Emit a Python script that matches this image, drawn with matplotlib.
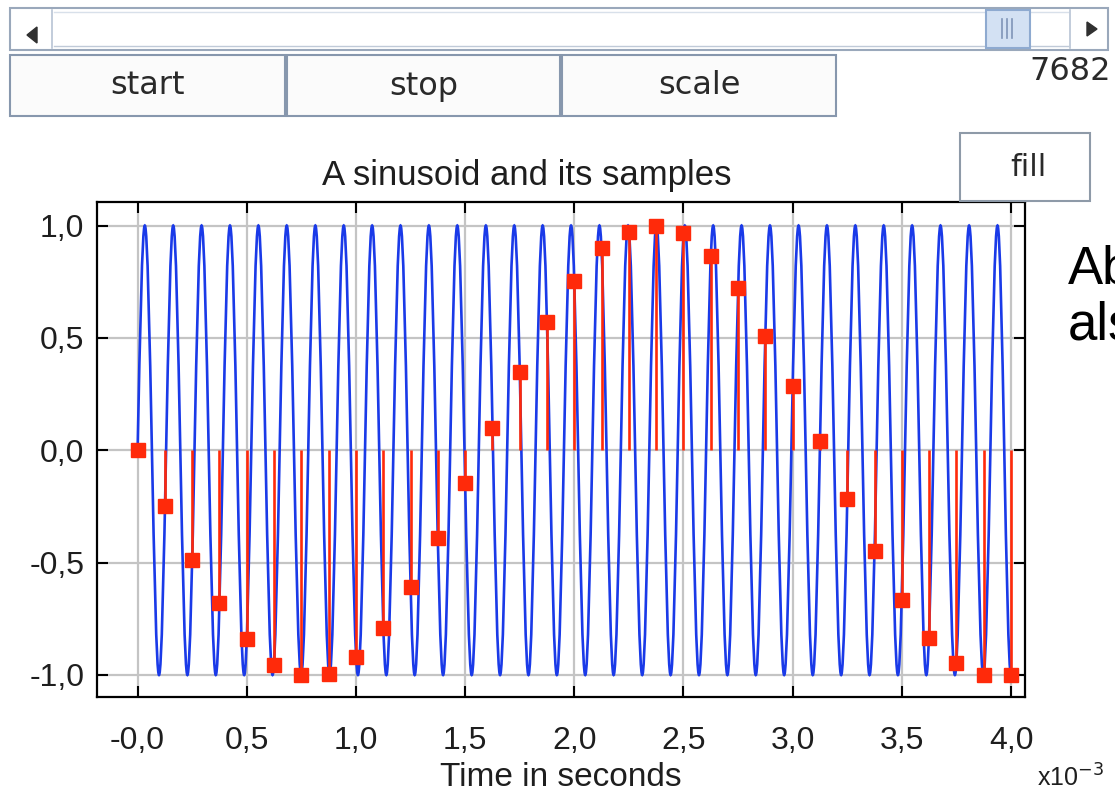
import numpy as np
import matplotlib
matplotlib.use("Agg")
import matplotlib.pyplot as plt
from matplotlib.path import Path
from matplotlib.patches import PathPatch, Rectangle, Polygon

# ---------------- data ----------------
# sample instants (ms) and sampled values
sample_times = [0.0, 0.125, 0.25, 0.375, 0.5, 0.625, 0.75, 0.875, 1.0, 1.125, 1.25,
                1.375, 1.5, 1.625, 1.75, 1.875, 2.0, 2.125, 2.25, 2.375, 2.5, 2.625,
                2.75, 2.875, 3.0, 3.125, 3.25, 3.375, 3.5, 3.625, 3.75, 3.875, 4.0]
sample_values = [0.0, -0.25, -0.49, -0.68, -0.84, -0.955, -1.0, -0.995, -0.92, -0.79, -0.61,
                 -0.39, -0.145, 0.10, 0.35, 0.57, 0.755, 0.90, 0.97, 1.0, 0.965, 0.865,
                 0.72, 0.51, 0.285, 0.04, -0.215, -0.45, -0.665, -0.835, -0.945, -1.0, -1.0]

# continuous sinusoid: times (ms) of its crests (+1) and troughs (-1)
peak_times = [0.033, 0.163, 0.293, 0.423, 0.553, 0.683, 0.814, 0.944, 1.074, 1.204,
              1.334, 1.464, 1.595, 1.725, 1.855, 1.985, 2.115, 2.246, 2.376, 2.506,
              2.636, 2.766, 2.896, 3.027, 3.157, 3.287, 3.417, 3.547, 3.677, 3.808, 3.938]
trough_times = [0.098, 0.228, 0.358, 0.488, 0.618, 0.749, 0.879, 1.009, 1.139, 1.269,
                1.399, 1.530, 1.660, 1.790, 1.920, 2.050, 2.180, 2.311, 2.441, 2.571,
                2.701, 2.831, 2.961, 3.092, 3.222, 3.352, 3.482, 3.612, 3.743, 3.873, 4.000]

x_ticks = [0.0, 0.5, 1.0, 1.5, 2.0, 2.5, 3.0, 3.5, 4.0]
x_ticklabels = ["-0,0", "0,5", "1,0", "1,5", "2,0", "2,5", "3,0", "3,5", "4,0"]
y_ticks = [-1.0, -0.5, 0.0, 0.5, 1.0]
y_ticklabels = ["-1,0", "-0,5", "0,0", "0,5", "1,0"]

title = "A sinusoid and its samples"
xlabel = "Time in seconds"
buttons = ["start", "stop", "scale"]
freq_label = "7682"

# ---------------- styling ----------------
W, H = 1115, 796
BLUE = "#1a3ae8"
RED = "#ff2a0a"
GRID = "#c4c4c4"
BTN_EDGE = "#8797ad"
FONT = "Liberation Sans"
TXT = "#1e1e1e"

fig = plt.figure(figsize=(W / 100, H / 100), dpi=100)
fig.patch.set_facecolor("white")

L, R, T, B = 97, 1025, 201.5, 697
ax = fig.add_axes([L / W, 1 - B / H, (R - L) / W, (B - T) / H])
ax.set_xlim(-0.186, 4.064)
ax.set_ylim(-1.098, 1.107)

# blue sinusoid built from crest/trough instants with cubic Bezier segments
ext_t = []
ext_v = []
for p, q in zip(peak_times, trough_times):
    ext_t += [p, q]
    ext_v += [1.0, -1.0]

verts = [(0.0, 0.0)]
codes = [Path.MOVETO]
p0 = ext_t[0]
verts += [(0.3261 * p0, 0.5123), (0.6381 * p0, 1.0), (p0, 1.0)]
codes += [Path.CURVE4] * 3
a = (np.pi - 2) / np.pi
for i in range(len(ext_t) - 1):
    t0, t1 = ext_t[i], ext_t[i + 1]
    v0, v1 = ext_v[i], ext_v[i + 1]
    d = t1 - t0
    verts += [(t0 + a * d, v0), (t1 - a * d, v1), (t1, v1)]
    codes += [Path.CURVE4] * 3
ax.add_patch(PathPatch(Path(verts, codes), fill=False, edgecolor=BLUE, lw=1.9, zorder=2))

# red stems and square markers
ax.vlines(sample_times, 0, sample_values, colors=RED, lw=1.9, zorder=3)
ax.plot(sample_times, sample_values, linestyle="none", marker="s", ms=9.5,
        color=RED, mec=RED, zorder=4)

ax.set_xticks(x_ticks)
ax.set_xticklabels(x_ticklabels, fontsize=23, family=FONT)
ax.set_yticks(y_ticks)
ax.set_yticklabels(y_ticklabels, fontsize=23, family=FONT)
ax.tick_params(direction="in", length=8, width=1.5, color="black",
               top=True, right=True, labelcolor=TXT)
ax.tick_params(axis="x", pad=21)
ax.tick_params(axis="y", pad=9)
ax.grid(True, color=GRID, lw=1.6, zorder=0)
ax.set_axisbelow(True)
for s in ax.spines.values():
    s.set_linewidth(1.6)
    s.set_color("black")

# ---------------- overlay for GUI widgets and texts (pixel coords) ----------------
ov = fig.add_axes([0, 0, 1, 1], zorder=10)
ov.set_xlim(0, W)
ov.set_ylim(H, 0)
ov.axis("off")
ov.patch.set_alpha(0)

def rect(x0, y0, x1, y1, fc="white", ec=BTN_EDGE, lw=1.5, z=1):
    ov.add_patch(Rectangle((x0, y0), x1 - x0, y1 - y0, facecolor=fc, edgecolor=ec, lw=lw, zorder=z))

# scrollbar
rect(10, 8, 1108, 50, fc="white", ec="#9aa8bb")
ov.plot([52, 52], [10, 48], color="#b8c4d4", lw=1.2, zorder=2)
ov.plot([54, 1068], [12, 12], color="#d8e0ea", lw=1.0, zorder=2)
ov.plot([54, 1068], [46, 46], color="#c0cad8", lw=1.0, zorder=2)
ov.add_patch(Polygon([(27, 35), (37, 27), (37, 43)], closed=True, color="#303030", zorder=3))
rect(986, 10, 1030, 48, fc="#d3e1f3", ec="#8eaad0", lw=1.5, z=3)
for xx in (1002, 1007, 1012):
    ov.plot([xx, xx], [19, 38], color="#7f95b8", lw=1.2, zorder=4)
ov.plot([1070, 1070], [10, 48], color="#b8c4d4", lw=1.2, zorder=2)
ov.add_patch(Polygon([(1097, 29), (1087, 22), (1087, 36)], closed=True, color="#303030", zorder=3))

# buttons
btn_x = [(10, 285), (287, 560), (562, 836)]
for (x0, x1), lab in zip(btn_x, buttons):
    rect(x0, 55, x1, 116, fc="#fbfbfb")
    ov.text((x0 + x1) / 2, 86, lab, ha="center", va="center", fontsize=23,
            family="DejaVu Sans", color="#2a2a2a")
ov.text(1070, 72, freq_label, ha="center", va="center", fontsize=23,
        family="DejaVu Sans", color="#2a2a2a")

# fill button
rect(960, 133, 1090, 201, fc="white", ec="#8e9aa8", z=5)
ov.text(1028, 167, "fill", ha="center", va="center", fontsize=22,
        family="DejaVu Sans", color="#2a2a2a", zorder=6)

# title and labels
ov.text(527, 175, title, ha="center", va="center", fontsize=25, family=FONT, color=TXT)
ov.text(561, 778, xlabel, ha="center", va="center", fontsize=24, family=FONT, color=TXT)
ov.text(1037, 778, r"x10$^{-3}$", ha="left", va="center", fontsize=18, family=FONT, color=TXT)

# cut-off side text (partly outside the picture, as in the reference screenshot)
ov.text(1068, 283, "Ab", ha="left", va="baseline", fontsize=38, family=FONT, color="black")
ov.text(1068, 340, "als", ha="left", va="baseline", fontsize=38, family=FONT, color="black")

fig.savefig("out.png", dpi=100, facecolor="white")
